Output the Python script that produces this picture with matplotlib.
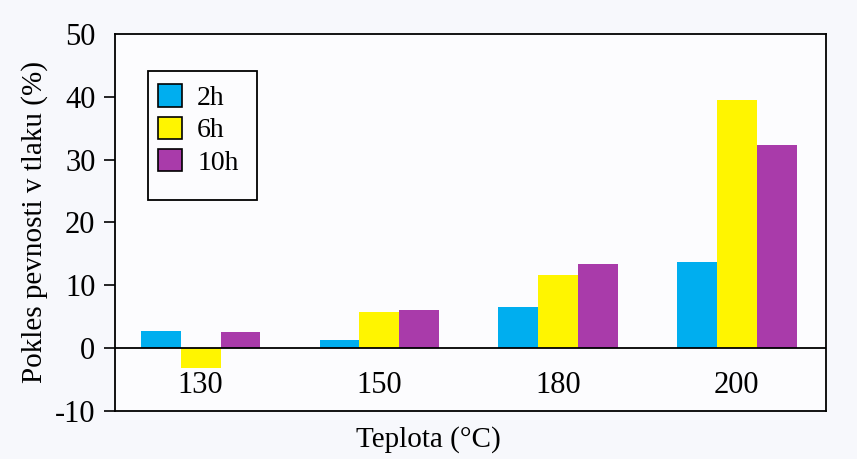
import numpy as np
import matplotlib
matplotlib.use("Agg")
import matplotlib.pyplot as plt
from matplotlib.patches import Rectangle, Patch

plt.rcParams["font.family"] = ["Liberation Serif", "DejaVu Serif"]
plt.rcParams["axes.unicode_minus"] = False

# data
teploty = ["130", "150", "180", "200"]
serie = ["2h", "6h", "10h"]
h2 = [2.7, 1.3, 6.6, 13.7]
h6 = [-3.1, 5.7, 11.6, 39.5]
h10 = [2.5, 6.0, 13.4, 32.3]
barvy = ["#00aeef", "#fff500", "#a93baa"]

fig = plt.figure(figsize=(8.57, 4.59), dpi=100, facecolor="#f7f8fc")
ax = fig.add_axes([0.134, 0.1046, 0.830, 0.8214])
ax.set_facecolor("#fcfcfe")

x = np.arange(len(teploty))
w = 0.223
for i, (vals, c) in enumerate(zip([h2, h6, h10], barvy)):
    ax.bar(x + (i - 1) * w, vals, w, color=c, edgecolor="none", zorder=2)

ax.axhline(0, color="black", lw=1.3, zorder=3)

ax.set_xlim(-0.48, 3.5)
ax.set_ylim(-10, 50)
ax.set_yticks(np.arange(-10, 51, 10))
ax.set_xticks([])
ax.tick_params(axis="y", direction="out", length=8, width=1.2, labelsize=22, pad=6)
ax.yaxis.get_major_ticks()[-1].tick1line.set_visible(False)
for s in ax.spines.values():
    s.set_linewidth(1.3)

for xi, t in zip(x, teploty):
    ax.text(xi, -5.9, t, ha="center", va="center", fontsize=22)

ax.set_ylabel("Pokles pevnosti v tlaku (%)", fontsize=21, labelpad=5)
fig.text(428 / 857, 1 - 440 / 459, "Teplota (°C)", ha="center", va="center", fontsize=21)

handles = [Patch(facecolor=c, edgecolor="black", lw=1.2) for c in barvy]
ax.legend(handles, serie, loc="upper left", bbox_to_anchor=(0.061, 0.866),
          frameon=False, fontsize=20, handlelength=0.85, handleheight=0.85,
          handletextpad=0.55, labelspacing=0.2, borderaxespad=0, borderpad=0)
ax.add_patch(Rectangle((0.046, 0.56), 0.154, 0.342, transform=ax.transAxes,
                       fill=False, edgecolor="black", lw=1.3, zorder=4))

fig.savefig("out.png", dpi=100, facecolor=fig.get_facecolor())
